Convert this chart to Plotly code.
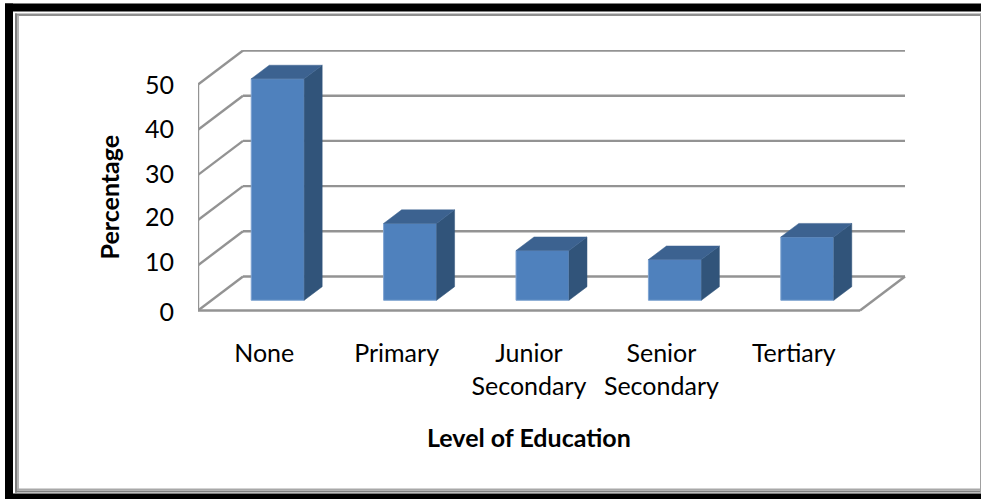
import plotly.graph_objects as go

categories = ["None", "Primary", "Junior<br>Secondary", "Senior<br>Secondary", "Tertiary"]
values = [49, 17, 11, 9, 14]
y_ticks = [0, 10, 20, 30, 40, 50]
x_title = "Level of Education"
y_title = "Percentage"

W, H = 981, 499
UNIT_X, UNIT_Y = 132.4, 4.52
Y_MIN = -1
FLOOR = 310
PL, PR, PT, PB = 198, 906, 49.5, FLOOR - Y_MIN * UNIT_Y
DX = 45 / UNIT_X     # depth of the floor along x, in category units
DY = 34 / UNIT_Y     # depth of the floor along y, in value units
BAR_W = 0.4
D0, D1 = 0.3, 0.7    # depth span of the bars
FRONT, SIDE, TOP = "#4f81bd", "#31547a", "#3c6290"
GRID = "#939393"
FONT = "Lato, Carlito, Calibri, sans-serif"
LABEL_NUDGE = [-0.3, 0.7, 0.7, 0.25, 0.0, -0.2]


def px(x):
    return (x - PL) / (PR - PL)


def py(y):
    return (PB - y) / (PB - PT)


n = len(categories)
x_max = (PR - PL) / UNIT_X
y_max = (FLOOR - PT) / UNIT_Y
shapes = []


def line(x0, y0, x1, y1, width=2.4, color=GRID):
    shapes.append(dict(type="line", xref="x", yref="y", x0=x0, y0=y0, x1=x1, y1=y1,
                       layer="below", line=dict(color=color, width=width)))


for v in y_ticks[1:]:
    line(0, v, DX, v + DY)
    line(DX, v + DY, n + DX, v + DY)
line(0, 0, 0, y_ticks[-1])
line(0, 0, DX, DY)
line(DX, DY, n + DX, DY)
line(n + DX, DY, n, 0)
line(n, 0, 0, 0)

# picture frame
for x0, y0, x1, y1, c in [
    (5, 3, 13, 499, "#000000"), (5, 3, 981, 11, "#000000"), (5, 493, 981, 499, "#000000"),
    (15, 13, 981, 15.5, "#8f8f8f"), (15, 13, 17, 492, "#7f7f7f"), (17, 15, 19, 490, "#b5b5b5"),
    (15, 490, 981, 492, "#7f7f7f"), (17, 488, 981, 490, "#a8a8a8"), (980, 13, 981, 492, "#a0a0a0"),
]:
    shapes.append(dict(type="rect", xref="paper", yref="paper", x0=px(x0), x1=px(x1),
                       y0=py(y0), y1=py(y1), layer="below", line_width=0, fillcolor=c))

fig = go.Figure()
centers = [i + 0.5 + (D0 * DX) for i in range(n)]
fig.add_trace(go.Bar(x=centers, y=values, base=[D0 * DY] * n, width=BAR_W,
                     marker=dict(color=FRONT, line=dict(color="#7ea3d1", width=1)),
                     hoverinfo="skip", showlegend=False))

dx = (D1 - D0) * DX
dy = (D1 - D0) * DY
for c, v in zip(centers, values):
    l, r = c - BAR_W / 2, c + BAR_W / 2
    b, t = D0 * DY, D0 * DY + v
    fig.add_trace(go.Scatter(x=[r, r + dx, r + dx, r, r], y=[b, b + dy, t + dy, t, b], mode="lines",
                             fill="toself", fillcolor=SIDE, line=dict(color=SIDE, width=0.5),
                             hoverinfo="skip", showlegend=False))
    fig.add_trace(go.Scatter(x=[l, r, r + dx, l + dx, l], y=[t, t, t + dy, t + dy, t], mode="lines",
                             fill="toself", fillcolor=TOP, line=dict(color=TOP, width=0.5),
                             hoverinfo="skip", showlegend=False))

annotations = [
    dict(text="<b>" + x_title + "</b>", xref="x", yref="paper", x=n / 2, y=py(437),
         xanchor="center", yanchor="middle", showarrow=False, font=dict(size=25)),
    dict(text="<b>" + y_title + "</b>", xref="paper", yref="y", x=px(109), y=y_ticks[-1] / 2,
         xanchor="center", yanchor="middle", textangle=-90, showarrow=False, font=dict(size=25)),
]

fig.update_layout(
    width=W, height=H, margin=dict(l=PL, r=W - PR, t=PT, b=H - PB),
    paper_bgcolor="white", plot_bgcolor="rgba(0,0,0,0)", shapes=shapes, annotations=annotations,
    showlegend=False,
    font=dict(family=FONT, size=25, color="#000000"),
    xaxis=dict(range=[0, x_max], showgrid=False, zeroline=False, showline=False,
               tickmode="array", tickvals=[i + 0.5 for i in range(n)], ticktext=categories,
               ticks="outside", ticklen=21 - (PB - FLOOR), tickcolor="rgba(0,0,0,0)", tickangle=0),
    yaxis=dict(range=[Y_MIN, y_max], showgrid=False, zeroline=False, showline=False,
               tickmode="array", tickvals=[t + d for t, d in zip(y_ticks, LABEL_NUDGE)], ticktext=[str(t) for t in y_ticks],
               ticks="outside", ticklen=18, tickcolor="rgba(0,0,0,0)"),
)
fig.write_html("out.html", config=dict(displayModeBar=False), post_script="document.body.style.margin='0';")
